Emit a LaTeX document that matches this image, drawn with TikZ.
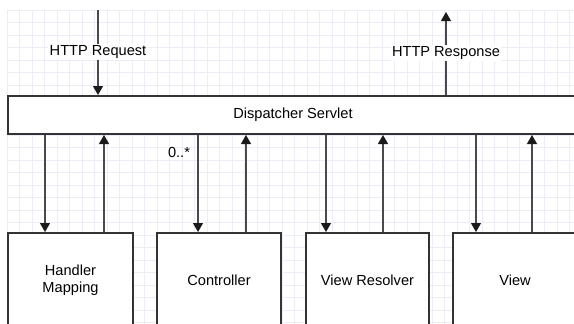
\documentclass[tikz,border=0pt]{standalone}
\usepackage{fontspec}
\setmainfont{Liberation Sans}
\usetikzlibrary{arrows.meta}
\definecolor{gridc}{HTML}{EDEDF8}
\definecolor{boxc}{HTML}{333333}
\definecolor{arrc}{HTML}{4A4A4A}
\definecolor{tipc}{HTML}{1A1A1A}
\begin{document}
\begin{tikzpicture}[x=1pt,y=-1pt,
  font=\fontsize{14.6}{17}\selectfont,
  box/.style={draw=boxc, line width=2pt, fill=white, align=center, inner sep=0pt},
  arr/.style={draw=arrc, line width=1.3pt, -{Triangle[width=10pt,length=9pt,color=tipc]}},
  lbl/.style={fill=white, inner sep=1.5pt}]
\useasboundingbox (0,0) rectangle (574,324);
\fill[white] (0,0) rectangle (574,324);
% grid
\foreach \k in {0,...,45} \draw[gridc, line width=0.8pt] (7.3+12.5*\k,10) -- (7.3+12.5*\k,324);
\foreach \k in {0,...,25} \draw[gridc, line width=0.8pt] (7.3,10+12.5*\k) -- (574,10+12.5*\k);
% nodes
\node[box, minimum width=570pt, minimum height=38pt] (disp) at (293,115) {Dispatcher Servlet};
\node[box, minimum width=125pt, minimum height=94pt] (hm) at (70.5,280) {Handler\\Mapping};
\node[box, minimum width=124pt, minimum height=94pt] (ctl) at (219,280) {Controller};
\node[box, minimum width=123pt, minimum height=94pt] (vr) at (367.5,280) {View Resolver};
\node[box, minimum width=124pt, minimum height=94pt] (view) at (515,280) {View};
% free ends
\coordinate (req) at (98,10);
\coordinate (resp) at (446,12);
\coordinate (x1) at (45,0);
\coordinate (x2) at (104,0);
\coordinate (x3) at (198,0);
\coordinate (x4) at (246,0);
\coordinate (x5) at (326,0);
\coordinate (x6) at (383,0);
\coordinate (x7) at (476,0);
\coordinate (x8) at (532,0);
% connectors
\draw[arr] (req) -- (req |- disp.north);
\draw[arr] (resp |- disp.north) -- (resp);
\draw[arr] (x1 |- disp.south) -- (x1 |- hm.north);
\draw[arr] (x2 |- hm.north) -- (x2 |- disp.south);
\draw[arr] (x3 |- disp.south) -- (x3 |- ctl.north);
\draw[arr] (x4 |- ctl.north) -- (x4 |- disp.south);
\draw[arr] (x5 |- disp.south) -- (x5 |- vr.north);
\draw[arr] (x6 |- vr.north) -- (x6 |- disp.south);
\draw[arr] (x7 |- disp.south) -- (x7 |- view.north);
\draw[arr] (x8 |- view.north) -- (x8 |- disp.south);
% labels
\node[lbl] (lreq) at (98,52) {HTTP Request};
\node[lbl] (lresp) at (446,53) {HTTP Response};
\node[inner sep=1pt] (mult) at (179,152) {0..*};
\end{tikzpicture}
\end{document}
